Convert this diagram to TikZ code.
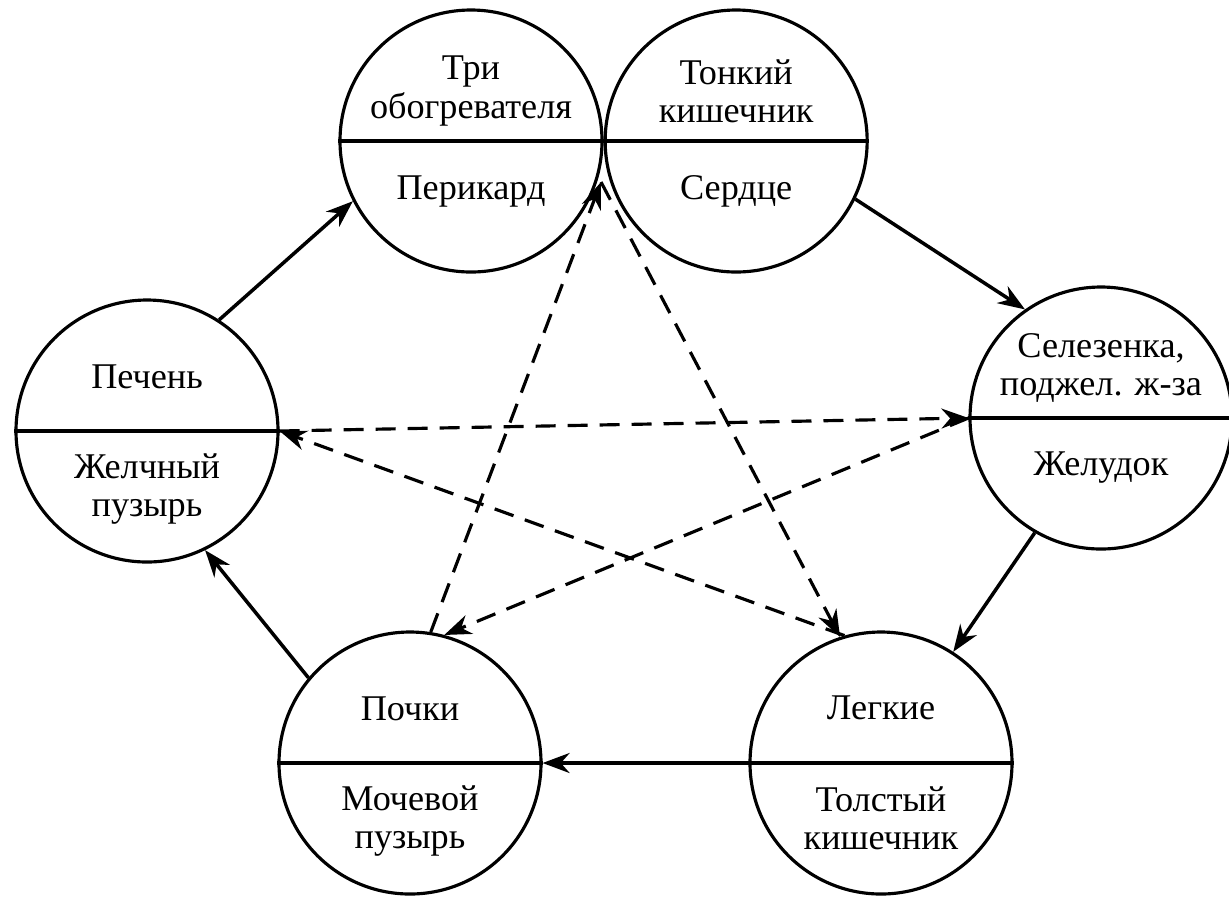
\documentclass[tikz,border=0pt]{standalone}
\usepackage{fontspec}
\setmainfont{Liberation Serif}
\usetikzlibrary{positioning,arrows.meta}

\begin{document}
\begin{tikzpicture}[x=0.1mm, y=-0.1mm, >={Stealth[length=2.7mm,width=2mm]}, node distance=0mm]
  \tikzstyle{organ}=[circle, draw, line width=0.9pt, minimum size=26.2mm, inner sep=0pt]
  \tikzstyle{part}=[align=center, font=\fontsize{10.3}{10.9}\selectfont, inner sep=1pt]
  \tikzstyle{link}=[->, line width=1pt]
  \tikzstyle{ctrl}=[->, line width=0.9pt, dash pattern=on 2mm off 1.2mm]

  \path[use as bounding box, fill=white] (0,0) rectangle (1229,896);

  % circles
  \node[organ] (pericard) at (471,141) {};
  \node[organ, right=of pericard] (heart) {};
  \node[organ] (spleen) at (1101,418) {};
  \node[organ] (lung) at (881,763) {};
  \node[organ] (kidney) at (410,763) {};
  \node[organ] (liver) at (147,431) {};
  \coordinate (fire) at (601,182);

  \draw[line width=0.9pt] (pericard.west) -- (pericard.east);
  \draw[line width=0.9pt] (heart.west) -- (heart.east);
  \draw[line width=0.9pt] (spleen.west) -- (spleen.east);
  \draw[line width=0.9pt] (lung.west) -- (lung.east);
  \draw[line width=0.9pt] (kidney.west) -- (kidney.east);
  \draw[line width=0.9pt] (liver.west) -- (liver.east);

  % texts
  \node[part] (pericardU) at ([yshift=5mm]pericard.center) {Три\\обогревателя};
  \node[part] (pericardL) at ([yshift=-5mm]pericard.center) {Перикард};
  \node[part] (heartU) at ([yshift=5mm]heart.center) {Тонкий\\кишечник};
  \node[part] (heartL) at ([yshift=-5mm]heart.center) {Сердце};
  \node[part] (spleenU) at ([yshift=5mm]spleen.center) {Селезенка,\\поджел. ж-за};
  \node[part] (spleenL) at ([yshift=-5mm]spleen.center) {Желудок};
  \node[part] (lungU) at ([yshift=5.5mm]lung.center) {Легкие};
  \node[part] (lungL) at ([yshift=-5.5mm]lung.center) {Толстый\\кишечник};
  \node[part] (kidneyU) at ([yshift=5.4mm]kidney.center) {Почки};
  \node[part] (kidneyL) at ([yshift=-5.8mm]kidney.center) {Мочевой\\пузырь};
  \node[part] (liverU) at ([yshift=5.4mm]liver.center) {Печень};
  \node[part] (liverL) at ([yshift=-5.8mm]liver.center) {Желчный\\пузырь};

  % generating cycle
  \draw[link] (liver.57) -- (pericard.207);
  \draw[link] (heart.334) -- (spleen.125);
  \draw[link] (spleen.240) -- (lung.57);
  \draw[link] (lung.west) -- (kidney.east);
  \draw[link] (kidney.140) -- (liver.296);

  % control cycle
  \draw[ctrl] (liver.east) -- (spleen.west);
  \draw[ctrl] (spleen.west) -- (kidney.75);
  \draw[ctrl] (kidney.81) -- (fire);
  \draw[ctrl] (fire) -- (lung.108);
  \draw[ctrl] (lung.106) -- (liver.east);
\end{tikzpicture}
\end{document}
